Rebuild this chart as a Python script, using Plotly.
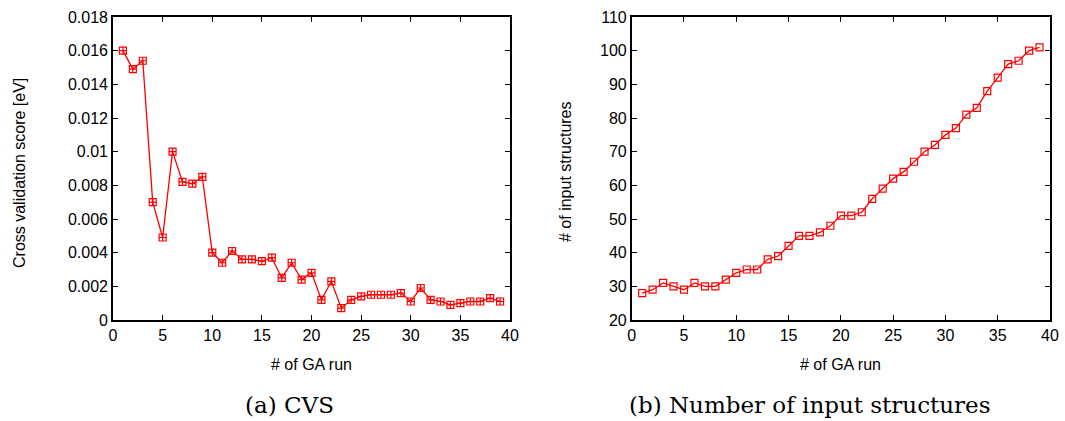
import plotly.graph_objects as go

# GA run index
runs = list(range(1, 40))

# Cross validation score [eV] per GA run
cvs = [0.0160, 0.0149, 0.0154, 0.0070, 0.0049, 0.0100, 0.0082, 0.0081, 0.0085,
       0.0040, 0.0034, 0.0041, 0.0036, 0.0036, 0.0035, 0.0037, 0.0025, 0.0034,
       0.0024, 0.0028, 0.0012, 0.0023, 0.0007, 0.0012, 0.0014, 0.0015, 0.0015,
       0.0015, 0.0016, 0.0011, 0.0019, 0.0012, 0.0011, 0.0009, 0.0010, 0.0011,
       0.0011, 0.0013, 0.0011]

# Number of input structures per GA run
n_struct = [28, 29, 31, 30, 29, 31, 30, 30, 32, 34, 35, 35, 38, 39, 42, 45, 45,
            46, 48, 51, 51, 52, 56, 59, 62, 64, 67, 70, 72, 75, 77, 81, 83, 88,
            92, 96, 97, 100, 101]

x_ticks = [0, 5, 10, 15, 20, 25, 30, 35, 40]
cvs_ticks = [0, 0.002, 0.004, 0.006, 0.008, 0.01, 0.012, 0.014, 0.016, 0.018]
cvs_tick_text = ["0", "0.002", "0.004", "0.006", "0.008", "0.01", "0.012",
                 "0.014", "0.016", "0.018"]
n_ticks = list(range(20, 111, 10))

RED = "#ff0000"
FONT = "Liberation Sans, Arial, sans-serif"
W, H = 1065, 421

marker = dict(symbol="square-cross-open", size=7, color=RED, line=dict(width=1.2, color=RED))
line = dict(color=RED, width=1.3)

fig = go.Figure()
fig.add_trace(go.Scatter(x=runs, y=cvs, mode="lines+markers", line=line,
                         marker=marker, xaxis="x", yaxis="y", showlegend=False))
fig.add_trace(go.Scatter(x=runs, y=n_struct, mode="lines+markers", line=line,
                         marker=dict(marker, symbol="square-open"),
                         xaxis="x2", yaxis="y2", showlegend=False))

ydom = [1 - 320 / H, 1 - 17 / H]
axis_common = dict(showgrid=False, zeroline=False, showline=True, linecolor="black",
                   linewidth=1.6, mirror="ticks", ticks="inside", ticklen=5,
                   tickwidth=1.2, tickcolor="black", automargin=False,
                   tickfont=dict(family=FONT, size=16, color="black"))

fig.update_layout(
    width=W, height=H,
    margin=dict(l=0, r=0, t=0, b=0, pad=0),
    paper_bgcolor="white", plot_bgcolor="white",
    xaxis=dict(axis_common, domain=[113 / W, 510 / W], range=[0, 40],
               tickvals=x_ticks, anchor="y"),
    yaxis=dict(axis_common, domain=ydom, range=[0, 0.018], tickvals=cvs_ticks,
               ticktext=cvs_tick_text, anchor="x"),
    xaxis2=dict(axis_common, domain=[631.7 / W, 1050 / W], range=[0, 40],
                tickvals=x_ticks, anchor="y2"),
    yaxis2=dict(axis_common, domain=ydom, range=[20, 110], tickvals=n_ticks,
                anchor="x2"),
)

title_font = dict(family=FONT, size=16, color="black")
cap_font = dict(family="DejaVu Serif", size=23, color="black")
annotations = [
    dict(text="# of GA run", x=(113 + 510) / 2 / W, y=1 - 364 / H, font=title_font),
    dict(text="# of GA run", x=(631.7 + 1050) / 2 / W, y=1 - 364 / H, font=title_font),
    dict(text="Cross validation score [eV]", x=19 / W, y=1 - 173 / H,
         textangle=-90, font=title_font),
    dict(text="# of input structures", x=565 / W, y=1 - 172 / H,
         textangle=-90, font=title_font),
    dict(text="(a) CVS", x=289 / W, y=1 - 405 / H, font=cap_font),
    dict(text="(b) Number of input structures", x=810 / W, y=1 - 405 / H, font=cap_font),
]
for a in annotations:
    a.update(xref="paper", yref="paper", showarrow=False, xanchor="center",
             yanchor="middle")
fig.update_layout(annotations=annotations)

fig.write_html("out.html")
